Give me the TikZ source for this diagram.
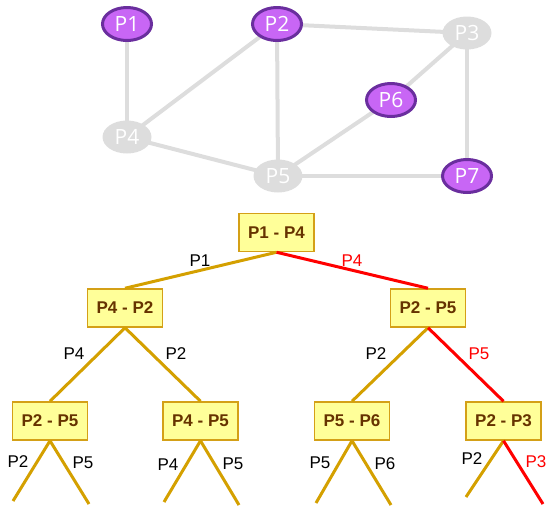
\documentclass[tikz,border=0pt]{standalone}
\usepackage{fontspec}
\setmainfont{Liberation Sans}
\newfontfamily\gfont{Open Sans}
\usetikzlibrary{shapes.geometric}
\pgfdeclarelayer{bg}
\pgfsetlayers{bg,main}
\definecolor{gedge}{HTML}{DDDDDD}
\definecolor{pfill}{HTML}{C866F5}
\definecolor{pdraw}{HTML}{6A2E9E}
\definecolor{gold}{HTML}{D4A000}
\definecolor{boxfill}{HTML}{FFFF99}
\definecolor{boxdraw}{HTML}{D4A017}
\definecolor{boxtext}{HTML}{663300}
\tikzset{
  gnode/.style={ellipse, minimum width=49pt, minimum height=33pt, inner sep=0pt,
    font=\gfont\fontsize{21}{21}\selectfont, text=white},
  active/.style={gnode, fill=pfill, draw=pdraw, line width=3pt},
  idle/.style={gnode, fill=gedge},
  gline/.style={draw=gedge, line width=4pt},
  tbox/.style={rectangle, fill=boxfill, draw=boxdraw, line width=1.5pt,
    minimum width=75pt, minimum height=38pt, inner sep=0pt,
    font=\bfseries\fontsize{17}{17}\selectfont, text=boxtext},
  tl/.style={line width=3pt, draw=gold},
  rl/.style={line width=3pt, draw=red},
  lab/.style={font=\fontsize{17}{17}\selectfont, inner sep=0pt},
  rlab/.style={lab, text=red}
}
\begin{document}
\begin{tikzpicture}[x=1pt,y=-1pt]
\useasboundingbox (0,0) rectangle (548,507);
% graph
\node[idle] (P3) at (467,33) {P3};
\node[idle] (P4) at (127,137) {P4};
\node[idle] (P5) at (278,176) {P5};
\node[active] (P1) at (127,24) {P1};
\node[active] (P2) at (277,24) {P2};
\node[active] (P6) at (391,100) {P6};
\node[active] (P7) at (467,176) {P7};
\begin{pgfonlayer}{bg}
\draw[gline] (P1.center) -- (P4.center);
\draw[gline] (P4.center) -- (P2.center);
\draw[gline] (P2.center) -- (P5.center);
\draw[gline] (P2.center) -- (P3.center);
\draw[gline] (P4.center) -- (P5.center);
\draw[gline] (P5.center) -- (P6.center);
\draw[gline] (P6.center) -- (P3.center);
\draw[gline] (P3.center) -- (P7.center);
\draw[gline] (P5.center) -- (P7.center);
\end{pgfonlayer}
% tree
\node[tbox] (t0) at (276.5,232.5) {P1 - P4};
\node[tbox] (t1) at (125,308) {P4 - P2};
\node[tbox] (t2) at (428,308) {P2 - P5};
\node[tbox] (t3) at (50,421) {P2 - P5};
\node[tbox] (t4) at (200.5,421) {P4 - P5};
\node[tbox] (t5) at (352,421) {P5 - P6};
\node[tbox] (t6) at (503.5,421) {P2 - P3};
\draw[tl] (t0.south) -- (t1.north);
\draw[rl] (t0.south) -- (t2.north);
\draw[tl] (t1.south) -- (t3.north);
\draw[tl] (t1.south) -- (t4.north);
\draw[tl] (t2.south) -- (t5.north);
\draw[rl] (t2.south) -- (t6.north);
\coordinate (l3a) at (13,501); \coordinate (l3b) at (89,504);
\coordinate (l4a) at (164,502); \coordinate (l4b) at (239,505);
\coordinate (l5a) at (316,503); \coordinate (l5b) at (391,505);
\coordinate (l6a) at (466,497); \coordinate (l6b) at (543,504);
\draw[tl] (t3.south) -- (l3a);
\draw[tl] (t3.south) -- (l3b);
\draw[tl] (t4.south) -- (l4a);
\draw[tl] (t4.south) -- (l4b);
\draw[tl] (t5.south) -- (l5a);
\draw[tl] (t5.south) -- (l5b);
\draw[tl] (t6.south) -- (l6a);
\draw[rl] (t6.south) -- (l6b);
% labels
\node[lab] (a1) at (200,261) {P1};
\node[rlab] (a2) at (352,261) {P4};
\node[lab] (a3) at (74,354) {P4};
\node[lab] (a4) at (176,354) {P2};
\node[lab] (a5) at (376,354) {P2};
\node[rlab] (a6) at (479,354) {P5};
\node[lab] (a7) at (18,462) {P2};
\node[lab] (a8) at (83,463) {P5};
\node[lab] (a9) at (168,465) {P4};
\node[lab] (a10) at (233,464) {P5};
\node[lab] (a11) at (320,463) {P5};
\node[lab] (a12) at (385,464) {P6};
\node[lab] (a13) at (472,459) {P2};
\node[rlab] (a14) at (536,462) {P3};
\end{tikzpicture}
\end{document}
